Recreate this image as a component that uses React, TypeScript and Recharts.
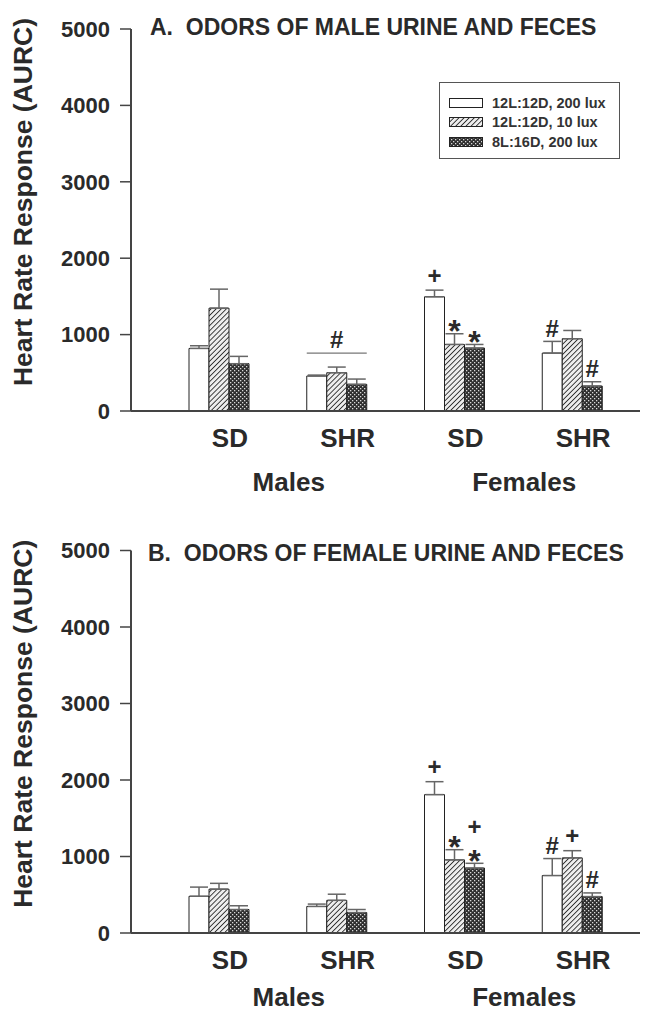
import React from "react";
import { BarChart, Bar, XAxis, YAxis, ErrorBar, LabelList, Legend } from "recharts";

const strains = ["SD", "SHR", "SD", "SHR"];
const sexes = ["Males", "Males", "Females", "Females"];
const yTicks = [0, 1000, 2000, 3000, 4000, 5000];
const seriesNames = ["12L:12D, 200 lux", "12L:12D, 10 lux", "8L:16D, 200 lux"];

// A. odors of male urine and feces (mean, SEM)
const aLight = [819, 458, 1495, 758];
const aLightErr = [35, 12, 87, 153];
const aDim = [1346, 501, 871, 946];
const aDimErr = [249, 74, 140, 108];
const aShort = [619, 349, 824, 327];
const aShortErr = [96, 69, 47, 56];
const aLightMark = ["", "", "+", "#"];
const aDimMark = ["", "", "*", ""];
const aShortMark = ["", "", "*", "#"];
const aGroupMark = ["", "#", "", ""];
const aGroupLine = [0, 758, 0, 0];

// B. odors of female urine and feces
const bLight = [480, 347, 1809, 751];
const bLightErr = [120, 31, 169, 222];
const bDim = [573, 427, 956, 982];
const bDimErr = [76, 80, 133, 94];
const bShort = [307, 267, 849, 476];
const bShortErr = [49, 40, 62, 48];
const bLightMark = ["", "", "+", "#"];
const bDimMark = ["", "", "*", "+"];
const bShortMark = ["", "", "+*", "#"];
const bGroupMark = ["", "", "", ""];
const bGroupLine = [0, 0, 0, 0];

const FONT = "'Liberation Sans', Arial, sans-serif";
const INK = "#2a2a2a";
const AXIS = "#444";
const ERR = "#666";
const PAD = { left: 29, right: 9 };

const MARK_Y: Record<string, number> = { "+": -6.5, "#": -4.6, "*": 8.3 };
const MARK_SIZE: Record<string, number> = { "+": 24, "#": 24, "*": 32 };

function geom(props: any) {
  const vb = props.viewBox || {};
  return {
    x: Number(props.x ?? vb.x), y: Number(props.y ?? vb.y),
    width: Number(props.width ?? vb.width), height: Number(props.height ?? vb.height),
    index: props.index, value: props.value,
  };
}

function markLabel(vals: number[], errs: number[]) {
  return (props: any) => {
    const { x, y, width, height, index, value } = geom(props);
    if (!value) return null;
    const top = y - (errs[index] * height) / vals[index];
    const chars = String(value).split("").reverse();
    return (
      <g>
        {chars.map((c, k) => (
          <text key={k} x={x + width / 2} y={top + MARK_Y[c] - k * 22} textAnchor="middle"
            fontSize={MARK_SIZE[c]} fontWeight="bold" fill={INK} fontFamily={FONT}>{c}</text>
        ))}
      </g>
    );
  };
}

function groupLabel(vals: number[], lines: number[]) {
  return (props: any) => {
    const { x, y, width, height, index, value } = geom(props);
    if (!value) return null;
    const ly = y - ((lines[index] - vals[index]) * height) / vals[index];
    return (
      <g>
        <line x1={x} x2={x + 3 * width} y1={ly} y2={ly} stroke="#777" strokeWidth={1.2} />
        <text x={x + 1.5 * width} y={ly - 5.3} textAnchor="middle" fontSize={24}
          fontWeight="bold" fill={INK} fontFamily={FONT}>{value}</text>
      </g>
    );
  };
}

function StrainTick({ x, y, payload }: any) {
  return (
    <text x={x + 11} y={y + 36} textAnchor="middle" fontSize={26} fontWeight="bold"
      fill={INK} fontFamily={FONT}>{payload.value}</text>
  );
}

function SexTick({ x, y, payload, shift }: any) {
  return (
    <text x={x + 11} y={y + shift} textAnchor="middle" fontSize={26} fontWeight="bold"
      fill={INK} fontFamily={FONT}>{payload.value}</text>
  );
}

function YLabel({ viewBox }: any) {
  const cx = viewBox.x + 32;
  const cy = viewBox.y + viewBox.height / 2 - 18;
  return (
    <text transform={`translate(${cx},${cy}) rotate(-90)`} textAnchor="middle" fontSize={26.5}
      fontWeight="bold" fill={INK} fontFamily={FONT}>Heart Rate Response (AURC)</text>
  );
}

function LegendBox({ payload }: any) {
  const items = [...(payload || [])].sort(
    (a: any, b: any) => seriesNames.indexOf(a.value) - seriesNames.indexOf(b.value));
  return (
    <div style={{ border: "1.5px solid #555", boxSizing: "border-box", width: 181, height: 77,
      padding: "10px 0 0 9px", background: "#fff" }}>
      {items.map((p: any) => (
        <div key={p.value} style={{ display: "flex", alignItems: "center", height: 19.5 }}>
          <svg width={34} height={10} style={{ marginRight: 9 }}>
            <rect x={0.5} y={0.5} width={33} height={9} fill={p.color} stroke="#222" strokeWidth={1} />
          </svg>
          <span style={{ fontFamily: FONT, fontSize: 14.5, fontWeight: "bold", color: "#333" }}>{p.value}</span>
        </div>
      ))}
    </div>
  );
}

function Panel(p: any) {
  const rows = strains.map((s, i) => ({
    strain: s, sex: sexes[i],
    light: p.light[i], lightErr: [0, p.lightErr[i]], lightMark: p.lightMark[i],
    dim: p.dim[i], dimErr: [0, p.dimErr[i]], dimMark: p.dimMark[i],
    short: p.short[i], shortErr: [0, p.shortErr[i]], shortMark: p.shortMark[i],
    groupMark: p.groupMark[i],
  }));
  const errProps = { width: 9, stroke: ERR, strokeWidth: 1.5, direction: "y" as const, isAnimationActive: false };
  return (
    <div style={{ position: "relative", width: 658, height: p.height }}>
      <div style={{ position: "absolute", left: p.titleX, top: p.titleTop, fontFamily: FONT, fontSize: 23,
        fontWeight: "bold", lineHeight: "23px", color: INK, whiteSpace: "pre", zIndex: 2 }}>{p.title}</div>
      <BarChart width={658} height={p.height} data={rows} barGap={0} barSize={20}
        margin={{ top: p.top, right: 18, left: 0, bottom: 0 }}>
        <XAxis dataKey="strain" height={48} padding={PAD} tickLine={false} tickSize={0} tickMargin={0}
          axisLine={{ stroke: AXIS, strokeWidth: 2 }} tick={<StrainTick />} interval={0} />
        <XAxis xAxisId="sex" dataKey="sex" allowDuplicatedCategory={false} height={51} padding={PAD}
          axisLine={false} tickLine={false} tickSize={0} tickMargin={0} tick={<SexTick shift={p.groupDy} />} interval={0} />
        <YAxis width={131} domain={[0, 5000]} ticks={yTicks} interval={0} tickSize={11} tickMargin={10}
          axisLine={{ stroke: AXIS, strokeWidth: 2 }} tickLine={{ stroke: AXIS, strokeWidth: 1.5 }}
          tick={{ fontSize: 22, fontWeight: "bold", fill: INK, fontFamily: FONT }} label={<YLabel />} />
        {p.legend && (
          <Legend content={<LegendBox />} layout="horizontal" verticalAlign="middle" align="center"
            wrapperStyle={{ left: 439, top: 82, width: 181, height: 77 }} />
        )}
        <Bar dataKey="light" name={seriesNames[0]} fill="#ffffff" stroke="#222" strokeWidth={1} isAnimationActive={false}>
          <ErrorBar dataKey="lightErr" {...errProps} />
          <LabelList dataKey="lightMark" content={markLabel(p.light, p.lightErr)} />
          <LabelList dataKey="groupMark" content={groupLabel(p.light, p.groupLine)} />
        </Bar>
        <Bar dataKey="dim" name={seriesNames[1]} fill="url(#hatch)" stroke="#222" strokeWidth={1} isAnimationActive={false}>
          <ErrorBar dataKey="dimErr" {...errProps} />
          <LabelList dataKey="dimMark" content={markLabel(p.dim, p.dimErr)} />
        </Bar>
        <Bar dataKey="short" name={seriesNames[2]} fill="url(#cross)" stroke="#222" strokeWidth={1} isAnimationActive={false}>
          <ErrorBar dataKey="shortErr" {...errProps} />
          <LabelList dataKey="shortMark" content={markLabel(p.short, p.shortErr)} />
        </Bar>
      </BarChart>
    </div>
  );
}

export default function App() {
  return (
    <div style={{ position: "absolute", left: 0, top: 0, width: 658, background: "#fff" }}>
      <svg width={0} height={0} style={{ position: "absolute" }}>
        <defs>
          <pattern id="hatch" width={3.6} height={3.6} patternUnits="userSpaceOnUse" patternTransform="rotate(45)">
            <rect width={3.6} height={3.6} fill="#eeeeee" />
            <line x1={0} y1={0} x2={0} y2={3.6} stroke="#2e2e2e" strokeWidth={1.8} />
          </pattern>
          <pattern id="cross" width={4} height={4} patternUnits="userSpaceOnUse">
            <rect width={4} height={4} fill="#2e2e2e" />
            <rect x={0} y={0} width={1.3} height={1.3} fill="#d8d8d8" />
            <rect x={2} y={2} width={1.3} height={1.3} fill="#d8d8d8" />
          </pattern>
        </defs>
      </svg>
      <Panel title="A.  ODORS OF MALE URINE AND FECES" titleX={150} titleTop={16} height={510} top={29} legend
        groupDy={32}
        light={aLight} lightErr={aLightErr} lightMark={aLightMark}
        dim={aDim} dimErr={aDimErr} dimMark={aDimMark}
        short={aShort} shortErr={aShortErr} shortMark={aShortMark}
        groupMark={aGroupMark} groupLine={aGroupLine} />
      <Panel title="B.  ODORS OF FEMALE URINE AND FECES" titleX={148} titleTop={32} height={522} top={40.5}
        groupDy={25}
        light={bLight} lightErr={bLightErr} lightMark={bLightMark}
        dim={bDim} dimErr={bDimErr} dimMark={bDimMark}
        short={bShort} shortErr={bShortErr} shortMark={bShortMark}
        groupMark={bGroupMark} groupLine={bGroupLine} />
    </div>
  );
}
